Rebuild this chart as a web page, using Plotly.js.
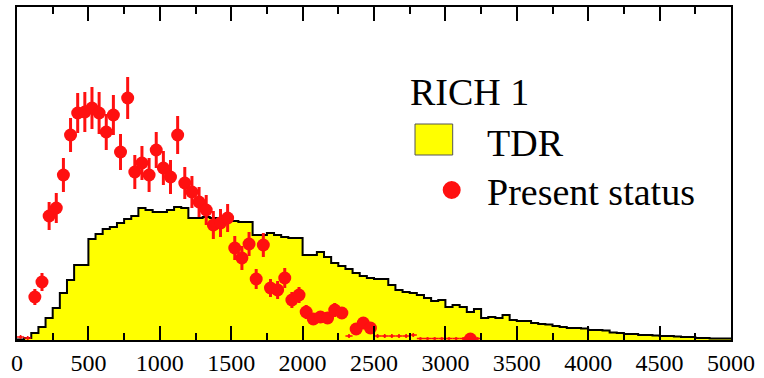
<!DOCTYPE html>
<html><head><meta charset="utf-8">
<script src="https://cdn.plot.ly/plotly-3.0.1.min.js"></script>
<style>html,body{margin:0;padding:0;background:#fff}#chart{width:764px;height:378px}</style>
</head><body><div id="chart"></div>
<script>
// ---- data ----
const binWidth = 50;
const tdrCounts = [0.5,2,7,13,22,32,47,60,75,75,
 101,106,111,113,117,121,124,132,130,128,
 128,130,133,132,122,122,123,122,121,120,
 119,118,118,105,105,107,105,103,102,102,
 85,85,88,83,77,74,71,67,64,62,
 61,61,55,50,48,47,45,42,39,40,
 33,35,33,28,31,22,23,22,25,20,
 19,19,17,16,15.5,14,13,12,12,11.5,
 10,10,9.5,7.5,7,6,6,5,5,4.5,
 4,4,3.5,3,3,2,2,1.5,1.5,1.5];

const presentX = [125,175,225,275,325,375,425,475,525,575,625,675,725,775,825,875,925,975,1025,1075,
 1125,1175,1225,1275,1325,1375,1425,1475,1525,1575,1625,1675,1725,1775,1825,1875,1925,1975,2025,2075,
 2125,2175,2225,2275,2375,2425,2475,3175];
const presentY = [43,58,124,132,165,205,227,228,232,227,208,225,188,242,168,177,165,190,172,163,
 205,157,148,138,130,115,117,122,92,82,96,61,95,52,50,62,40,45,28,21,
 23,22,30,27,11,17,12,1];
const presentErr = [8,9,14,15,17,17,20,20,21,21,18,20,18,21,17,17,17,18,17,17,
 19,16,16,15,15,14,14,14,12,12,12,10,12,9,9,10,8,8,7,6,
 6,6,7,6,4,5,4,1];

const lowX = [25,75,2325,2525,2575,2625,2675,2725,2775,2825,2875,2925,2975,3025,3075,3125,3225];
const lowY = [3,2,4,4,4,4,4,4,5,1.5,1.5,1.5,1.5,1.5,1.5,1.5,1.5];
const lowErr = [2,2,2,2,2,2,2,2,2,0,0,0,0,0,0,0,0];

const tickVals = [0,500,1000,1500,2000,2500,3000,3500,4000,4500,5000];
const tickText = ['0','500','1000','1500','2000','2500','3000','3500','4000','4500','5000'];

const legendTitle = 'RICH 1';
const seriesNames = ['TDR', 'Present status'];

// ---- build ----
const edges = tdrCounts.map((_, i) => i * binWidth).concat([tdrCounts.length * binWidth]);
const stepY = tdrCounts.concat([tdrCounts[tdrCounts.length - 1]]);
const RED = '#ff1010';
const SERIF = '"Liberation Serif", "DejaVu Serif", serif';

const traces = [
  {type:'scatter', mode:'lines', x:edges, y:stepY, line:{shape:'hv', color:'black', width:2},
   fill:'tozeroy', fillcolor:'#ffff00', name:seriesNames[0], hoverinfo:'skip'},
  {type:'scatter', mode:'markers', x:lowX, y:lowY,
   marker:{color:RED, size:3},
   error_x:{type:'constant', value:binWidth/2, color:RED, thickness:1.5, width:0},
   error_y:{type:'data', array:lowErr, color:RED, thickness:1.5, width:0},
   showlegend:false},
  {type:'scatter', mode:'markers', x:presentX, y:presentY, name:seriesNames[1],
   marker:{color:RED, size:13},
   error_y:{type:'data', array:presentErr, color:RED, thickness:3, width:0}}
];

const X0 = 17, X1 = 731, Y0 = 7, Y1 = 340;
const px = v => (v - X0) / (X1 - X0);
const py = v => (Y1 - v) / (Y1 - Y0);

const layout = {
  width:764, height:378,
  margin:{l:X0, r:764 - X1, t:Y0, b:378 - Y1},
  paper_bgcolor:'white', plot_bgcolor:'white',
  showlegend:false,
  font:{family:SERIF},
  xaxis:{range:[0,5000], tickvals:tickVals, ticktext:tickText, ticks:'inside', ticklen:14, tickwidth:2,
    tickcolor:'black', showline:true, linecolor:'black', linewidth:2, mirror:'allticks',
    showgrid:false, zeroline:false, automargin:false, ticklabelstandoff:0,
    tickfont:{family:SERIF, size:24, color:'black'},
    minor:{dtick:250, tick0:0, ticks:'inside', ticklen:7, tickwidth:2, tickcolor:'black', showgrid:false}},
  yaxis:{range:[0,333], showticklabels:false, ticks:'', showline:true, linecolor:'black', linewidth:2,
    mirror:true, showgrid:false, zeroline:false, automargin:false},
  shapes:[
    {type:'rect', xref:'paper', yref:'paper', x0:px(415), x1:px(452.7), y0:py(155), y1:py(124),
     fillcolor:'#ffff00', line:{color:'#555', width:1}},
    {type:'circle', xref:'paper', yref:'paper', x0:px(442.7), x1:px(460.7), y0:py(199), y1:py(181),
     fillcolor:RED, line:{width:0}}
  ],
  annotations:[
    {xref:'paper', yref:'paper', x:px(408), y:py(92), xanchor:'left', yanchor:'middle', showarrow:false,
     text:legendTitle, font:{family:SERIF, size:38, color:'black'}},
    {xref:'paper', yref:'paper', x:px(485), y:py(143), xanchor:'left', yanchor:'middle', showarrow:false,
     text:seriesNames[0], font:{family:SERIF, size:38, color:'black'}},
    {xref:'paper', yref:'paper', x:px(485), y:py(192), xanchor:'left', yanchor:'middle', showarrow:false,
     text:seriesNames[1], font:{family:SERIF, size:38, color:'black'}}
  ]
};

Plotly.newPlot('chart', traces, layout, {staticPlot:true, displayModeBar:false});
</script></body></html>
